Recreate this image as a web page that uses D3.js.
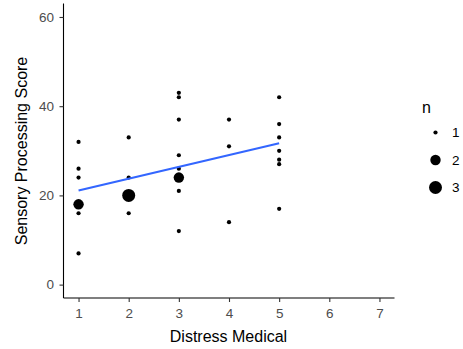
<!DOCTYPE html>
<html><head><meta charset="utf-8">
<script src="https://cdn.jsdelivr.net/npm/d3@7"></script>
<style>body{margin:0;background:#fff;} svg{display:block;}</style>
</head><body>
<svg id="c" width="463" height="349"></svg>
<script>
// Data
const distress = [1,1,1,1,1,1, 2,2,2,2, 3,3,3,3,3,3,3,3, 4,4,4, 5,5,5,5,5,5,5];
const score    = [32,26,24,18,16,7, 33,24,20,16, 43,42,37,29,26,24,21,12, 37,31,14, 42,36,33,30,28,27,17];
const count    = [1,1,1,2,1,1, 1,1,3,1, 1,1,1,1,1,2,1,1, 1,1,1, 1,1,1,1,1,1,1];
const fitX = [1, 5];
const fitY = [21.1, 31.7];
const xTicks = [1,2,3,4,5,6,7];
const yTicks = [0,20,40,60];
const legendN = [1,2,3];

const svg = d3.select("#c");
const font = "'Liberation Sans', Arial, sans-serif";
const x = d3.scaleLinear().domain([0.7, 7.3]).range([63.5, 394.5]);
const y = d3.scaleLinear().domain([-3, 63]).range([298, 3.6]);
const r = d3.scaleSqrt().domain([0, 2]).range([2.1, 6.5]);

// axes
const xa = svg.append("g").attr("transform", "translate(0,298)")
  .call(d3.axisBottom(x).tickValues(xTicks).tickSize(4).tickPadding(6).tickFormat(d3.format("d")));
const ya = svg.append("g").attr("transform", "translate(63.5,0)")
  .call(d3.axisLeft(y).tickValues(yTicks).tickSize(4).tickPadding(5.5).tickFormat(d3.format("d")));
[xa, ya].forEach(g => {
  g.select(".domain").attr("stroke", "#000").attr("stroke-width", 1.1);
  g.selectAll(".tick line").attr("stroke", "#333").attr("stroke-width", 1.1);
  g.selectAll(".tick text").attr("fill", "#4D4D4D").style("font-family", font).style("font-size", "13.5px");
});
xa.select(".domain").attr("d", `M${x.range()[0]},0H${x.range()[1]}`);
ya.select(".domain").attr("d", `M0,${y.range()[0]}V${y.range()[1]}`);

// points
const pts = distress.map((d, i) => ({x: d, y: score[i], n: count[i]}));
svg.append("g").selectAll("circle").data(pts).join("circle")
  .attr("cx", d => x(d.x)).attr("cy", d => y(d.y)).attr("r", d => r(d.n - 1))
  .attr("fill", "#000");

// fit line
svg.append("path").datum(fitX.map((d, i) => [d, fitY[i]]))
  .attr("d", d3.line().x(d => x(d[0])).y(d => y(d[1])))
  .attr("stroke", "#3366FF").attr("stroke-width", 2.2).attr("fill", "none");

// axis titles
svg.append("text").attr("x", 228.5).attr("y", 342).attr("text-anchor", "middle")
  .style("font-family", font).style("font-size", "16px").attr("fill", "#000").text("Distress Medical");
svg.append("text").attr("transform", "translate(27,151) rotate(-90)").attr("text-anchor", "middle")
  .style("font-family", font).style("font-size", "16px").attr("fill", "#000").text("Sensory Processing Score");

// legend
const lg = svg.append("g");
lg.append("text").attr("x", 422).attr("y", 113).style("font-family", font).style("font-size", "16px").text("n");
legendN.forEach((n, i) => {
  const cy = 132.5 + i * 27.5;
  lg.append("circle").attr("cx", 435.5).attr("cy", cy).attr("r", r(n - 1)).attr("fill", "#000");
  lg.append("text").attr("x", 452).attr("y", cy + 4.8).style("font-family", font).style("font-size", "13.5px")
    .attr("fill", "#000").text(n);
});
</script>
</body></html>
